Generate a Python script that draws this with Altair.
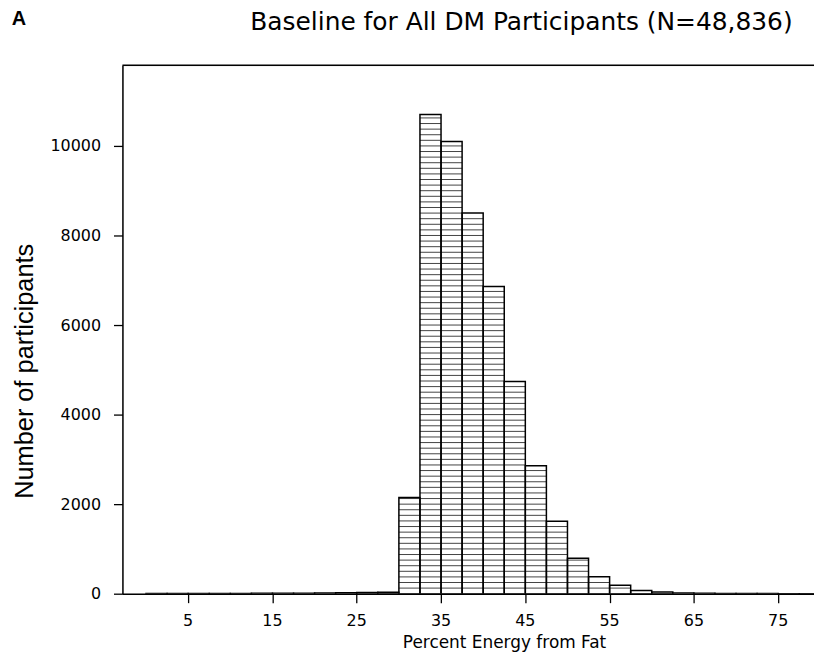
import altair as alt
import pandas as pd

# Histogram bins (Percent Energy from Fat), width 2.5
bin_starts = [0, 2.5, 5, 7.5, 10, 12.5, 15, 17.5, 20, 22.5, 25, 27.5,
              30, 32.5, 35, 37.5, 40, 42.5, 45, 47.5, 50, 52.5, 55, 57.5,
              60, 62.5, 65, 67.5, 70, 72.5, 75, 77.5]
bin_width = 2.5
counts = [2, 3, 4, 5, 6, 8, 10, 12, 15, 20, 25, 35,
          2150, 10700, 10100, 8500, 6860, 4740, 2860, 1620, 790, 380, 190, 70,
          38, 15, 8, 5, 3, 2, 1, 1]

x_ticks = [5, 15, 25, 35, 45, 55, 65, 75]
y_ticks = [0, 2000, 4000, 6000, 8000, 10000]

title_text = "Baseline for All DM Participants (N=48,836)"
panel_label = "A"
x_title = "Percent Energy from Fat"
y_title = "Number of participants"

hatch_step = 125
W, H = 695, 531

bars = pd.DataFrame({
    "start": bin_starts,
    "end": [s + bin_width for s in bin_starts],
    "count": counts,
    "base": [0] * len(counts),
})

rows = []
for s, c in zip(bin_starts, counts):
    k = 1
    while k * hatch_step < c - 20:
        rows.append({"start": s, "end": s + bin_width, "count": k * hatch_step})
        k += 1
hatch = pd.DataFrame(rows)

xticks_df = pd.DataFrame({"v": x_ticks, "lab": [str(v) for v in x_ticks]})

xscale = alt.Scale(domain=[-2.8, 79.25], nice=False, zero=False)
yscale = alt.Scale(domain=[0, 11800], nice=False)

tick_font = "DejaVu Sans"

y_axis = alt.Axis(values=y_ticks, format="d", title=y_title, grid=False,
                  domainColor="black", domainWidth=1.5,
                  tickColor="black", tickWidth=1.3, tickSize=9,
                  labelFont=tick_font, labelFontSize=16, labelColor="black",
                  labelPadding=13, labelOverlap=False,
                  titleFont="Liberation Sans", titleFontSize=25.5,
                  titleFontWeight="normal", titleColor="black",
                  titleAngle=270, titleX=-90, titleY=307,
                  titleAlign="center", titleBaseline="alphabetic")

x_axis = alt.Axis(values=x_ticks, title=None, grid=False, labels=False,
                  domainColor="black", domainWidth=1.5,
                  tickColor="black", tickWidth=1.3, tickSize=9)

fill_layer = alt.Chart(bars).mark_rect(fill="white", clip=True).encode(
    x=alt.X("start:Q", scale=xscale, axis=x_axis),
    x2="end:Q",
    y=alt.Y("count:Q", scale=yscale, axis=y_axis),
    y2="base:Q",
)

hatch_layer = alt.Chart(hatch).mark_rule(color="#444444", strokeWidth=1, clip=True).encode(
    x=alt.X("start:Q", scale=xscale, axis=x_axis),
    x2="end:Q",
    y=alt.Y("count:Q", scale=yscale, axis=y_axis),
)

outline_layer = alt.Chart(bars).mark_rect(fill=None, stroke="black", strokeWidth=1.5, clip=True).encode(
    x=alt.X("start:Q", scale=xscale, axis=x_axis),
    x2="end:Q",
    y=alt.Y("count:Q", scale=yscale, axis=y_axis),
    y2="base:Q",
)

# x tick labels, placed through the x scale
xlabels_layer = alt.Chart(xticks_df).mark_text(
    font=tick_font, fontSize=16, color="black", align="center", baseline="alphabetic"
).encode(
    x=alt.X("v:Q", scale=xscale, axis=x_axis),
    y=alt.value(H + 32),
    text="lab:N",
)

# top frame line of the plot area
frame_top = alt.Chart(pd.DataFrame({"k": [0]})).mark_rule(color="black", strokeWidth=1.5).encode(
    x=alt.value(0),
    x2=alt.value(W),
    y=alt.value(0),
)

def text_layer(txt, x, y, font, size, weight="normal"):
    return alt.Chart(pd.DataFrame({"t": [txt]})).mark_text(
        font=font, fontSize=size, fontWeight=weight, color="black",
        align="center", baseline="alphabetic"
    ).encode(text="t:N", x=alt.value(x), y=alt.value(y))

label_layer = text_layer(panel_label, -104, -41, "Liberation Sans", 20, "bold")
title_layer = text_layer(title_text, 401, -36, tick_font, 25)
xtitle_layer = text_layer(x_title, 384, H + 55, tick_font, 17)

chart = alt.layer(fill_layer, hatch_layer, outline_layer, frame_top,
                  label_layer, title_layer, xtitle_layer, xlabels_layer).properties(
    width=W,
    height=H,
    padding={"left": 115, "top": 56, "right": 0, "bottom": 61},
    autosize=alt.AutoSizeParams(type="none"),
).configure_view(stroke=None).configure(background="white")

chart.save("out.html", embed_options={"renderer": "svg", "actions": False})
